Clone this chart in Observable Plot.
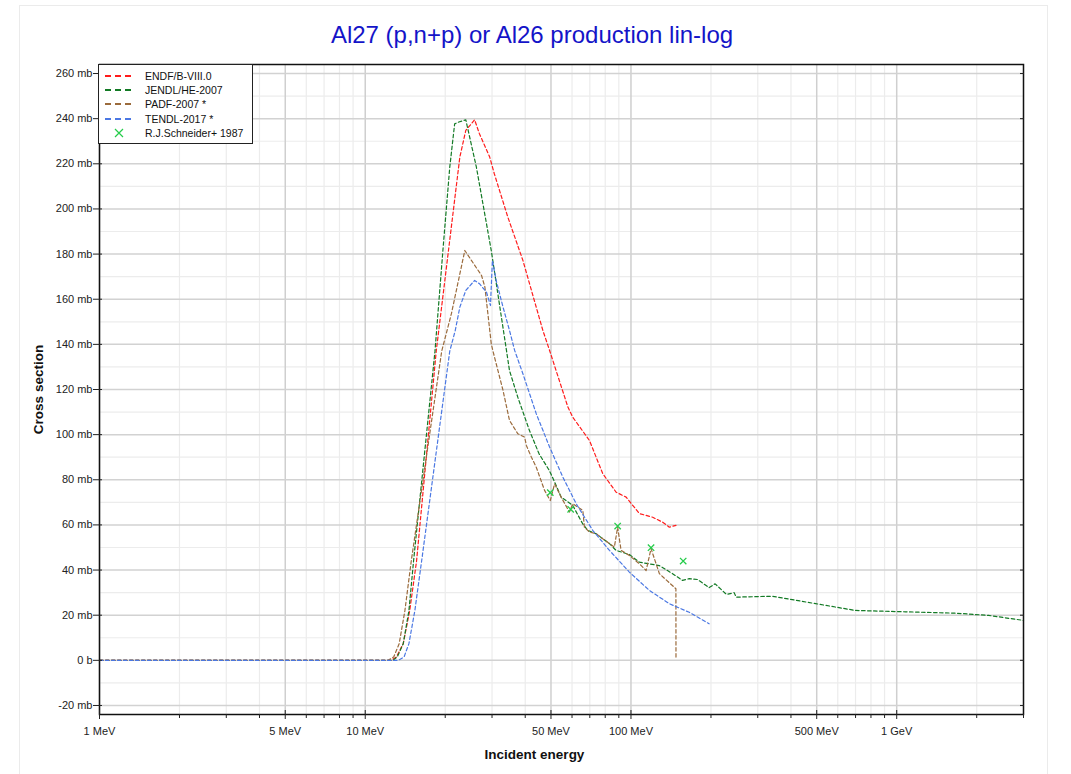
<!DOCTYPE html>
<html><head><meta charset="utf-8">
<script src="https://cdn.jsdelivr.net/npm/d3@7"></script>
<script src="https://cdn.jsdelivr.net/npm/@observablehq/plot@0.6"></script>
<style>
body{margin:0;background:#fff;font-family:"Liberation Sans",Arial,sans-serif;}
#wrap{position:relative;width:1071px;height:774px;overflow:hidden;background:#fff;}
#panel{position:absolute;left:19px;top:5px;width:1027px;height:800px;border:1px solid #ebebeb;}
#title{position:absolute;left:0;top:21px;width:1064px;text-align:center;font-size:24px;line-height:28px;color:#1414c8;}
#chart{position:absolute;left:0;top:50px;}
#legend{position:absolute;left:98px;top:64px;width:155px;height:80px;border:1px solid #222;background:#fff;box-sizing:border-box;}
.lrow{position:absolute;left:0;height:14px;width:150px;}
.lrow svg{position:absolute;left:5px;top:0;}
.lrow span{position:absolute;left:46px;top:0;font-size:10.5px;line-height:14px;color:#111;white-space:nowrap;}
</style>
</head><body>
<div id="wrap">
  <div id="panel"></div>
  <div id="title"></div>
  <div id="chart"></div>
  <div id="legend"></div>
</div>
<script>
// ---- data (energy in MeV, cross section in mb) ----
const endfE = [1, 12.5, 13.1, 13.9, 14.7, 15.6, 18.5, 22.7, 23.9, 25.8, 26.9, 29.4, 30.6, 34.4, 39.2, 46.6, 49.4, 57.9, 60.4, 69.8, 78.3, 87.9, 95.9, 107.6, 120.7, 131.6, 139.4, 147.7];
const endfV = [0, 0, 1.5, 7.4, 22, 44, 137, 223, 234.8, 239.5, 233.3, 223, 215.6, 196.4, 177.2, 146.2, 137.3, 112.2, 107.7, 97.4, 82.7, 74.5, 72.3, 65, 63.4, 61.2, 59, 59.8];

const jendlE = [1, 12.7, 13.2, 13.9, 14.6, 15.2, 18.3, 19.6, 20.8, 21.7, 22.5, 23.9, 26.2, 29.8, 34.0, 34.9, 37.5, 41.5, 45.1, 49.3, 51.6, 54.6, 57.0, 60.4, 65.8, 68.8, 73.9, 83.0, 87.9, 98.6, 107.5, 127.8, 143.4, 156.3, 165.6, 178.0, 196.8, 207.3, 228.8, 244.5, 248.8, 340.6, 495.6, 700, 1079, 1662, 2218, 3000];
const jendlV = [0, 0, 1.5, 7.4, 22, 44, 137, 181.6, 218.5, 237.7, 238.5, 239.5, 218.5, 181.6, 137.3, 128.4, 116.6, 101.8, 91.5, 84.1, 79, 72.3, 70.8, 68.6, 60.5, 57.6, 56.1, 51.7, 48.7, 46.9, 43.5, 42, 38.4, 35.4, 36.2, 35.8, 32.2, 33.9, 29.2, 30, 28, 28.4, 25.1, 22.1, 21.5, 20.9, 19.9, 17.7];

const padfE = [1, 12.2, 12.8, 13.42, 14.1, 14.9, 19.4, 21.1, 23.7, 27.4, 28.2, 29.8, 30.2, 33.0, 34.9, 37.5, 39.8, 40.4, 42.2, 44.0, 47.3, 49.7, 51.6, 54.6, 58.7, 60.4, 65.9, 66.8, 69.8, 74.0, 78.3, 86.6, 89.1, 91.8, 98.6, 107.5, 114.0, 119.0, 124.3, 127.9, 147.6, 147.7];
const padfV = [0, 0, 1.5, 7.4, 22, 44, 137, 153.6, 181.6, 170.5, 165.4, 140.3, 137.3, 119.6, 106.3, 100.4, 98.9, 95.2, 90, 85.6, 75.3, 70.8, 78.2, 72.3, 65.7, 69.4, 66.4, 59, 56.8, 56.1, 53.9, 50.2, 59, 48.7, 46.5, 42.8, 39.8, 49.5, 42.8, 38.4, 31.7, 0.7];

const tendlE = [1, 13.3, 14.0, 14.6, 15.37, 16.3, 20.8, 21.8, 22.7, 23.9, 25.8, 26.9, 28.6, 29.6, 30.1, 31.1, 33.0, 34.9, 36.5, 39.2, 44.0, 49.4, 55.4, 62.2, 71.8, 83.0, 98.6, 117.2, 139.4, 165.6, 196.8];
const tendlV = [0, 0, 1.5, 7.4, 22, 44, 137, 146, 156.5, 163.9, 168.3, 166.9, 163.1, 157.2, 177.2, 168.3, 156.5, 146.2, 137.3, 127, 109.3, 94.5, 81.2, 69.4, 57.6, 48.7, 39.1, 31, 25.1, 21.3, 16.2];

const expE = [49.7, 59.3, 89.1, 119.0, 157.2];
const expV = [74.3, 66.9, 59.5, 49.9, 44];

const seriesNames = ["ENDF/B-VIII.0", "JENDL/HE-2007", "PADF-2007 *", "TENDL-2017 *"];
const seriesColors = ["#ff1c1c", "#137a25", "#9b6b3c", "#4b78e3"];
const expName = "R.J.Schneider+ 1987";
const expColor = "#25cc4a";

const xMajorTicks = [1, 5, 10, 50, 100, 500, 1000];
const xMajorLabels = ["1 MeV", "5 MeV", "10 MeV", "50 MeV", "100 MeV", "500 MeV", "1 GeV"];
const xMinorTicks = [2, 3, 4, 6, 7, 8, 9, 20, 30, 40, 60, 70, 80, 90, 200, 300, 400, 600, 700, 800, 900, 2000, 3000];
const yTicks = [-20, 0, 20, 40, 60, 80, 100, 120, 140, 160, 180, 200, 220, 240, 260];
const yMinorTicks = [-10, 10, 30, 50, 70, 90, 110, 130, 150, 170, 190, 210, 230, 250];

const titleText = "Al27 (p,n+p) or Al26 production lin-log";
const xTitle = "Incident energy";
const yTitle = "Cross section";

// ---- build tables ----
const seriesE = [endfE, jendlE, padfE, tendlE];
const seriesV = [endfV, jendlV, padfV, tendlV];
const lineData = [];
seriesNames.forEach((name, k) => {
  seriesE[k].forEach((e, i) => lineData.push({name, e, v: seriesV[k][i]}));
});
const expData = expE.map((e, i) => ({e, v: expV[i]}));
const xLabelMap = new Map(xMajorTicks.map((t, i) => [t, xMajorLabels[i]]));
const blank = () => "";

document.getElementById("title").textContent = titleText;

const chart = Plot.plot({
  width: 1071,
  height: 724,
  marginLeft: 99,
  marginRight: 48,
  marginTop: 14,
  marginBottom: 60,
  style: {fontFamily: "'Liberation Sans', Arial, sans-serif", fontSize: "11px", color: "#222", background: "transparent"},
  x: {type: "log", domain: [1, 3000], label: null},
  y: {domain: [-24, 264], label: null},
  color: {domain: seriesNames, range: seriesColors},
  marks: [
    Plot.gridX(xMinorTicks, {stroke: "#ececec", strokeOpacity: 1, strokeWidth: 1.2}),
    Plot.gridY(yMinorTicks, {stroke: "#ececec", strokeOpacity: 1, strokeWidth: 1.2}),
    Plot.gridX(xMajorTicks, {stroke: "#cfcfcf", strokeOpacity: 1, strokeWidth: 1.5}),
    Plot.gridY(yTicks, {stroke: "#d2d2d2", strokeOpacity: 1, strokeWidth: 1.5}),
    Plot.line(lineData, {x: "e", y: "v", z: "name", stroke: "name", strokeWidth: 1.2, strokeDasharray: "3.5,2.5"}),
    Plot.dot(expData, {x: "e", y: "v", symbol: "times", r: 3, stroke: expColor, strokeWidth: 1.3}),
    Plot.frame({stroke: "#111", strokeWidth: 1.5}),
    Plot.axisX(xMajorTicks, {tickSize: 5, tickPadding: 8, text: d => xLabelMap.get(d), fontSize: 11, label: null}),
    Plot.axisX(xMinorTicks, {tickSize: 4, tickFormat: blank, label: null}),
    Plot.axisX(xMajorTicks, {tickSize: -4, tickFormat: blank, label: null}),
    Plot.axisY(yTicks, {tickSize: 6, tickPadding: 1, tickFormat: d => d === 0 ? "0 b" : d + " mb", fontSize: 11, label: null}),
    Plot.axisY(yTicks, {tickSize: -3, tickFormat: blank, label: null}),
    Plot.axisY(yTicks, {anchor: "right", tickSize: -4, tickFormat: blank, label: null}),
    Plot.text([yTitle], {frameAnchor: "left", dx: -61, rotate: -90, textAnchor: "middle", fontWeight: "bold", fontSize: 13.5, fill: "#111"}),
    Plot.text([xTitle], {frameAnchor: "bottom", dy: 44, dx: -27, textAnchor: "middle", fontWeight: "bold", fontSize: 13.5, fill: "#111"})
  ]
});
document.getElementById("chart").appendChild(chart);

// ---- legend ----
const legend = document.getElementById("legend");
const legendItems = seriesNames.map((n, i) => ({name: n, color: seriesColors[i], kind: "line"}))
  .concat([{name: expName, color: expColor, kind: "x"}]);
legendItems.forEach((it, i) => {
  const row = document.createElement("div");
  row.className = "lrow";
  row.style.top = (4 + i * 14.2) + "px";
  const s = d3.create("svg").attr("width", 30).attr("height", 14);
  if (it.kind === "line") {
    s.append("line").attr("x1", 1).attr("x2", 27).attr("y1", 7).attr("y2", 7)
      .attr("stroke", it.color).attr("stroke-width", 2).attr("stroke-dasharray", "6,4");
  } else {
    s.append("path").attr("d", "M11,3L19,11M19,3L11,11").attr("stroke", it.color).attr("stroke-width", 1.2).attr("fill", "none");
  }
  row.appendChild(s.node());
  const t = document.createElement("span");
  t.textContent = it.name;
  row.appendChild(t);
  legend.appendChild(row);
});
</script>
</body></html>
